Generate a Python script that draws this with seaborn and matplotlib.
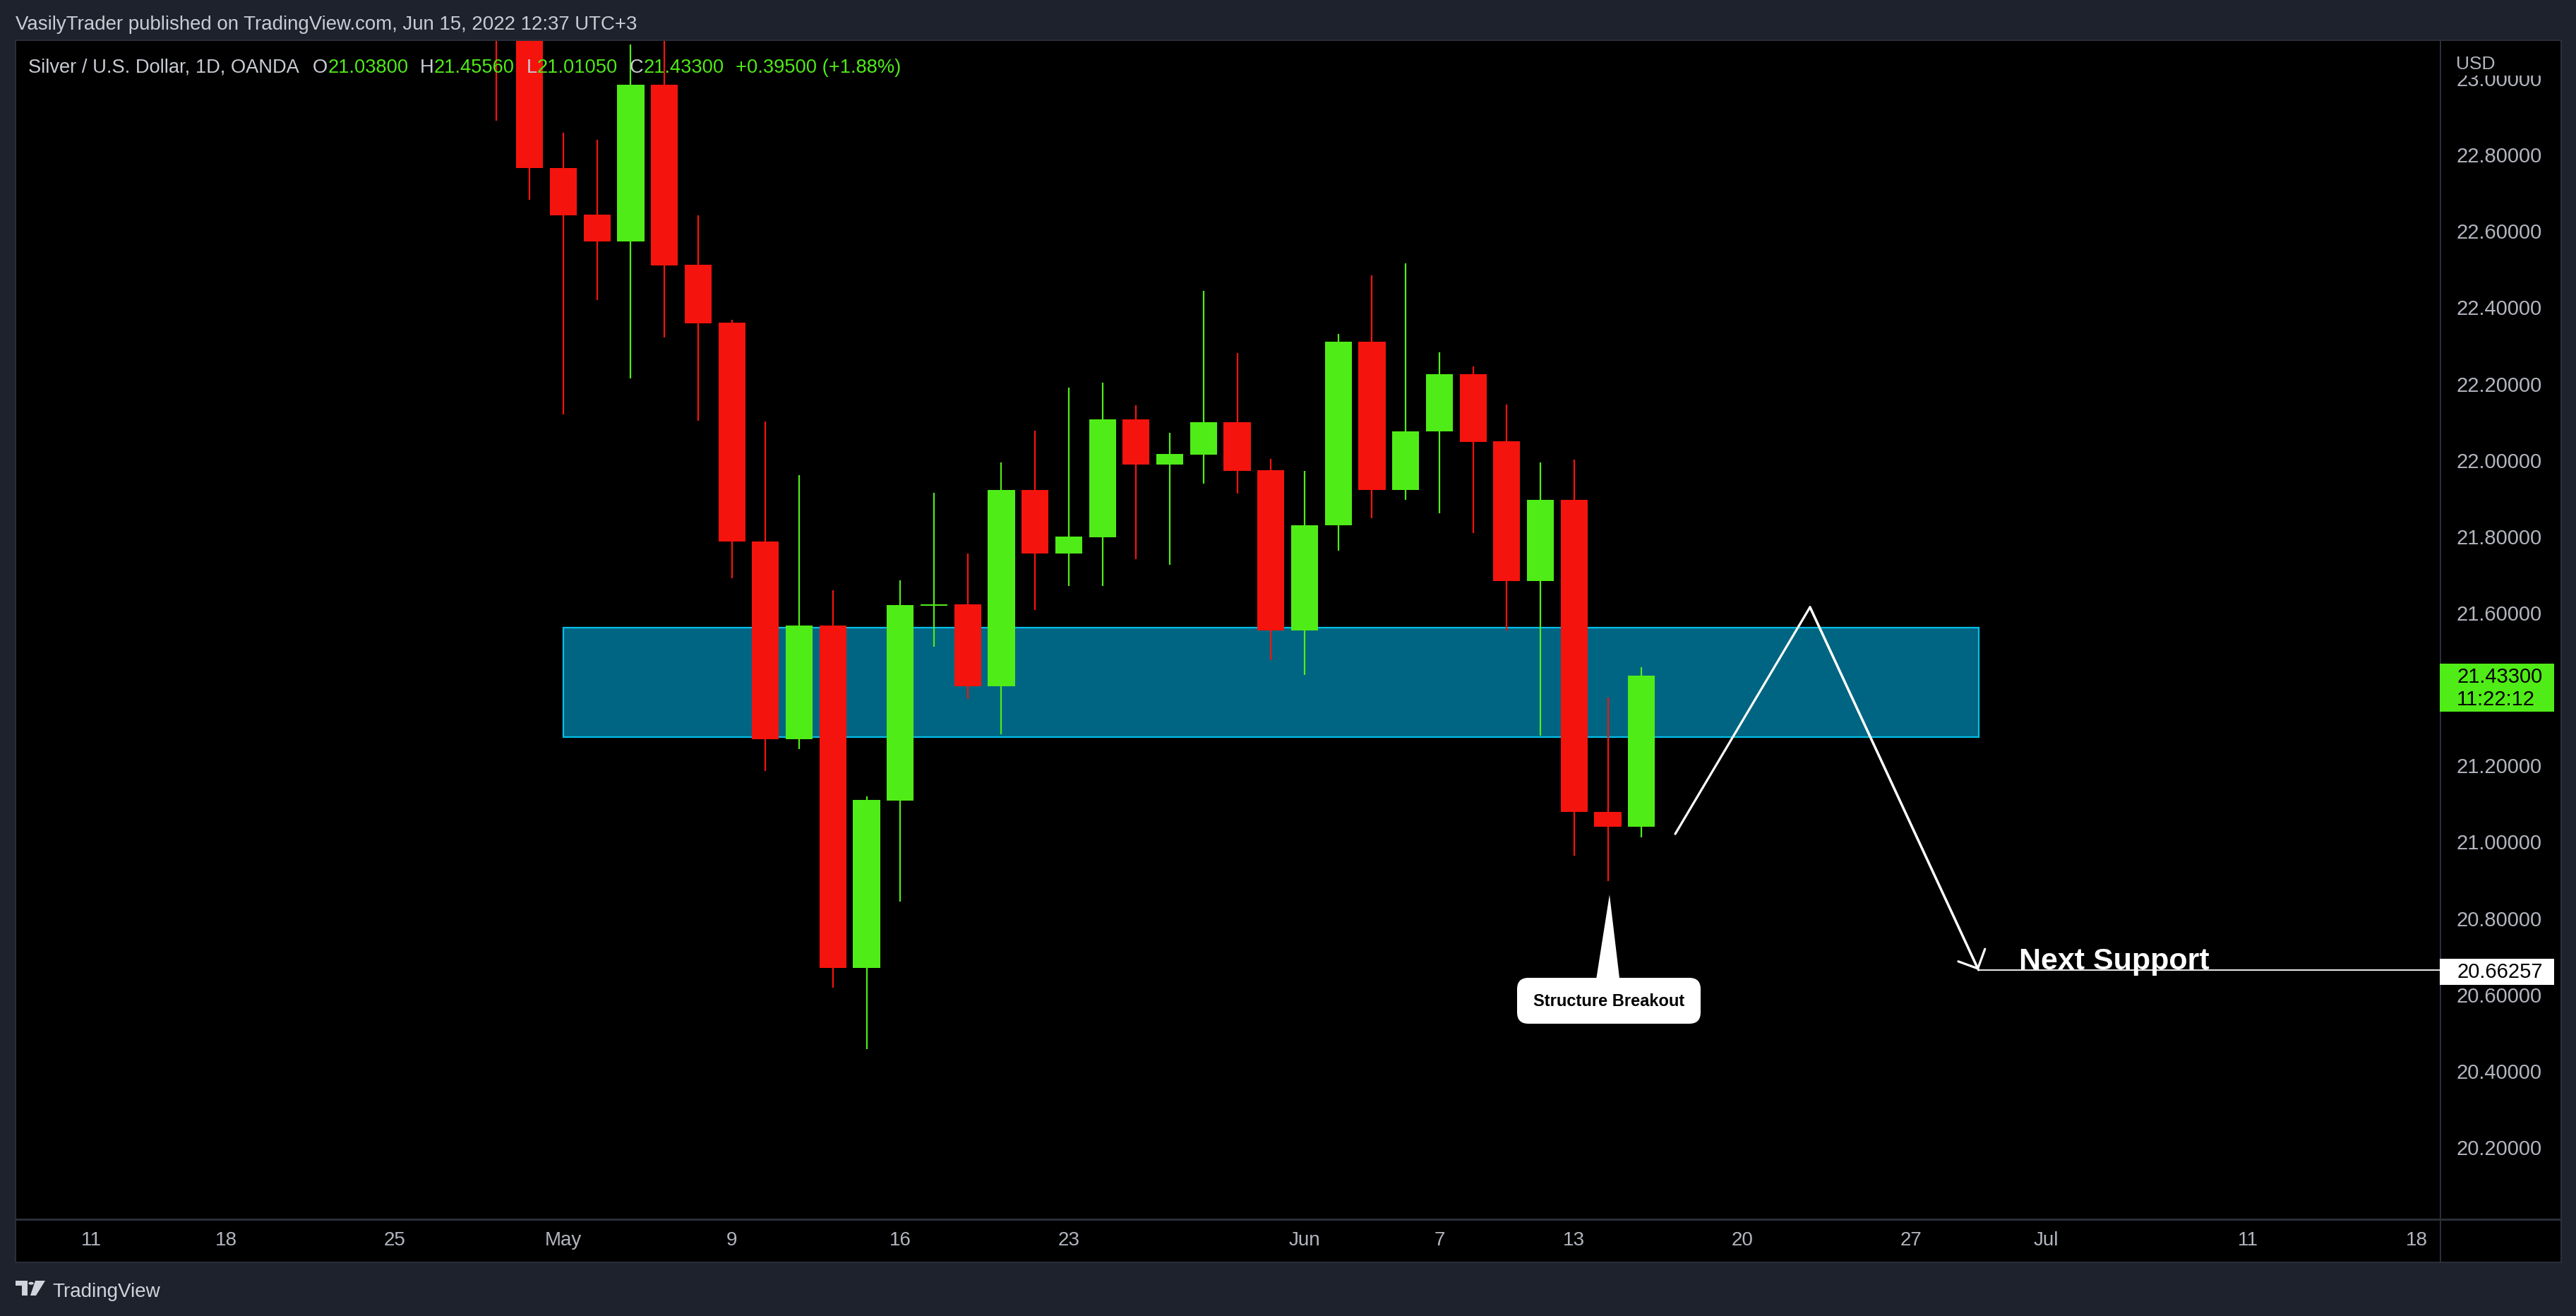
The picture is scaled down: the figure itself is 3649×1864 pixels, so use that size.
import matplotlib
matplotlib.use("Agg")
import matplotlib.pyplot as plt
import matplotlib.transforms as mtransforms
from matplotlib.patches import Rectangle, Polygon, FancyBboxPatch, Circle
import numpy as np
import pandas as pd
import seaborn as sns

# ---------------- data ----------------
bar_dates = ["2022-04-28", "2022-04-29", "2022-05-02", "2022-05-03", "2022-05-04", "2022-05-05", "2022-05-06",
             "2022-05-09", "2022-05-10", "2022-05-11", "2022-05-12", "2022-05-13",
             "2022-05-16", "2022-05-17", "2022-05-18", "2022-05-19", "2022-05-20",
             "2022-05-23", "2022-05-24", "2022-05-25", "2022-05-26", "2022-05-27",
             "2022-05-30", "2022-05-31", "2022-06-01", "2022-06-02", "2022-06-03",
             "2022-06-06", "2022-06-07", "2022-06-08", "2022-06-09", "2022-06-10",
             "2022-06-13", "2022-06-14", "2022-06-15"]
opens = [23.30, 23.14, 22.763, 22.641, 22.571, 22.981, 22.510,
         22.358, 21.785, 21.267, 21.565, 20.668,
         21.106, 21.616, 21.620, 21.406, 21.920,
         21.753, 21.796, 22.105, 21.986, 22.012,
         22.097, 21.972, 21.552, 21.827, 22.308,
         21.920, 22.073, 22.223, 22.047, 21.681,
         21.894, 21.077, 21.038]
highs = [23.45, 23.25, 22.855, 22.837, 23.087, 23.15, 22.639,
         22.365, 22.099, 21.959, 21.657, 21.118,
         21.683, 21.912, 21.753, 21.992, 22.075,
         22.188, 22.201, 22.142, 22.070, 22.441,
         22.279, 22.001, 21.970, 22.328, 22.482,
         22.513, 22.280, 22.243, 22.144, 21.992,
         22.000, 21.376, 21.4556]
lows = [22.887, 22.68, 22.118, 22.417, 22.212, 22.319, 22.101,
        21.689, 21.184, 21.241, 20.616, 20.455,
        20.842, 21.509, 21.372, 21.280, 21.605,
        21.668, 21.668, 21.739, 21.724, 21.936,
        21.911, 21.474, 21.435, 21.761, 21.846,
        21.894, 21.859, 21.807, 21.552, 21.276,
        20.962, 20.895, 21.0105]
closes = [23.14, 22.763, 22.639, 22.571, 22.981, 22.508, 22.356,
          21.785, 21.267, 21.565, 20.668, 21.108,
          21.618, 21.620, 21.406, 21.920, 21.753,
          21.798, 22.105, 21.986, 22.014, 22.097,
          21.970, 21.552, 21.827, 22.308, 21.920,
          22.073, 22.223, 22.046, 21.681, 21.894,
          21.077, 21.038, 21.433]

zone_start, zone_end = "2022-05-02", "2022-06-29"
zone_low, zone_high = 21.273, 21.560

proj_dates = ["2022-06-16", "2022-06-22", "2022-06-29"]
proj_prices = [21.019, 21.613, 20.66257]
support_price = 20.66257

callout_date = "2022-06-14"
callout_text = "Structure Breakout"
support_text = "Next Support"

# 21.4 is hidden behind the last-price label in the reference
price_ticks = [20.2, 20.4, 20.6, 20.8, 21.0, 21.2, 21.6, 21.8, 22.0, 22.2, 22.4, 22.6, 22.8, 23.0]
tick_dates = ["2022-04-11", "2022-04-18", "2022-04-25", "2022-05-02", "2022-05-09", "2022-05-16",
              "2022-05-23", "2022-06-01", "2022-06-07", "2022-06-13", "2022-06-20", "2022-06-27",
              "2022-07-01", "2022-07-11", "2022-07-18"]
tick_labels = ["11", "18", "25", "May", "9", "16", "23", "Jun", "7", "13", "20", "27", "Jul", "11", "18"]
holidays = ["2022-04-15"]

title_text = "VasilyTrader published on TradingView.com, Jun 15, 2022 12:37 UTC+3"
symbol_text = "Silver / U.S. Dollar, 1D, OANDA"
countdown_text = "11:22:12"

# ---------------- style ----------------
W, H, DPI = 3649, 1865, 100
BG = "#1e222d"
SEP = "#2a2e39"
GREEN = "#50ec17"
RED = "#f5130d"
ZONE = "#006582"
ZONE_EDGE = "#00bfe8"
AXTXT = "#b2b5be"
HDR = "#c9ccd4"

sns.set_theme(style="dark")
plt.rcParams["font.family"] = ["Liberation Sans", "DejaVu Sans"]

# trading calendar (weekdays without holidays)
days = pd.bdate_range("2022-04-11", "2022-07-29")
days = days[~days.isin(pd.to_datetime(holidays))]
pos = {d.strftime("%Y-%m-%d"): i for i, d in enumerate(days)}

fig = plt.figure(figsize=(W / DPI, H / DPI), dpi=DPI, facecolor=BG)


def frect(x0, y0, x1, y1, **kw):
    r = Rectangle((x0 / W, 1 - y1 / H), (x1 - x0) / W, (y1 - y0) / H,
                  transform=fig.transFigure, **kw)
    fig.add_artist(r)
    return r


# panel frames
frect(21, 57, 3629, 1790, fc=SEP, ec="none", zorder=-5)
frect(3458, 59, 3627, 1727, fc="black", ec="none", zorder=-4)
frect(23, 1730, 3456, 1788, fc="black", ec="none", zorder=-4)
frect(3458, 1730, 3627, 1788, fc="black", ec="none", zorder=-4)

PL, PR, PT, PB = 23, 3456, 59, 1727
ax = fig.add_axes([PL / W, 1 - PB / H, (PR - PL) / W, (PB - PT) / H])
ax.set_facecolor("black")
for s in ax.spines.values():
    s.set_visible(False)
ax.grid(False)

XMIN, XMAX = -2.237, 69.69
YMIN, YMAX = 20.0115, 23.096
ax.set_xlim(XMIN, XMAX)
ax.set_ylim(YMIN, YMAX)

# zone
ax.add_patch(Rectangle((pos[zone_start], zone_low), pos[zone_end] - pos[zone_start], zone_high - zone_low,
                       fc=ZONE, ec=ZONE_EDGE, lw=1.6, zorder=2))

# candles
xs = np.array([pos[d] for d in bar_dates])
o, h, l, c = (np.array(v) for v in (opens, highs, lows, closes))
cols = np.where(c >= o, GREEN, RED)
ax.vlines(xs, l, h, colors=cols, lw=1.6, zorder=3)
ax.bar(xs, np.maximum(np.abs(c - o), 0.004), bottom=np.minimum(o, c), width=0.8,
       color=cols, linewidth=0, zorder=4)

# projection path
px = [pos[d] for d in proj_dates]
sns.lineplot(x=px, y=proj_prices, ax=ax, color="white", lw=2.3, sort=False, zorder=6)
ax.annotate("", xy=(px[-1], proj_prices[-1]), xytext=(px[-2], proj_prices[-2]),
            arrowprops=dict(arrowstyle="->,head_length=0.75,head_width=0.75", color="white",
                            lw=2.3, shrinkA=0, shrinkB=0, mutation_scale=20), zorder=6)
ax.hlines(support_price, px[-1], XMAX, color="white", lw=1.3, zorder=6)
ax.text(px[-1] + 1.2, support_price + 0.004, support_text, color="white", fontsize=31,
        fontweight="bold", va="baseline", ha="left", zorder=7)

# callout
cx = pos[callout_date]
ax.add_patch(Polygon([(cx - 0.36, 20.63), (cx + 0.05, 20.86), (cx + 0.36, 20.63)],
                     closed=True, fc="white", ec="none", zorder=7))
bx, by = ax.transData.transform((cx + 0.03, 20.582))
bw, bh = 260, 65
fig.add_artist(FancyBboxPatch((bx - bw / 2, by - bh / 2), bw, bh,
                              boxstyle="round,pad=0,rounding_size=16",
                              transform=mtransforms.IdentityTransform(),
                              fc="white", ec="none", zorder=8))
fig.text(bx / W, by / H, callout_text, fontsize=17, fontweight="bold", color="black",
         ha="center", va="center", zorder=9)

# axes ticks
ax.yaxis.tick_right()
ax.set_yticks(price_ticks)
ax.set_yticklabels([f"{v:.5f}" for v in price_ticks])
ax.set_xticks([pos[d] for d in tick_dates])
ax.set_xticklabels(tick_labels)
ax.tick_params(axis="y", length=0, pad=17, labelsize=21, labelcolor=AXTXT)
ax.tick_params(axis="x", length=0, pad=12, labelsize=20, labelcolor=AXTXT)

# USD cover
frect(3458, 60, 3626, 108, fc="black", ec="none", zorder=5)
fig.text(3479 / W, 1 - 98 / H, "USD", fontsize=19, color=AXTXT, va="baseline", ha="left", zorder=6)


def ypix(price):
    return H - ax.transData.transform((0, price))[1]


# last price box
yc = ypix(closes[-1])
frect(3456, yc - 17, 3618, yc + 51, fc=GREEN, ec="none", zorder=5)
fig.text(3480 / W, 1 - (yc + 1) / H, f"{closes[-1]:.5f}", fontsize=21, color="black",
         va="center", ha="left", zorder=6)
fig.text(3480 / W, 1 - (yc + 33) / H, countdown_text, fontsize=21, color="black",
         va="center", ha="left", zorder=6)

# support price box
ys = ypix(support_price)
frect(3456, ys - 16, 3618, ys + 21, fc="white", ec="none", zorder=5)
fig.text(3480 / W, 1 - (ys + 2) / H, f"{support_price:.5f}", fontsize=21, color="black",
         va="center", ha="left", zorder=6)

# header
fig.text(22 / W, 1 - 42 / H, title_text, fontsize=19.9, color=HDR, va="baseline", ha="left")

chg = closes[-1] - closes[-2]
pct = chg / closes[-2] * 100
pieces = [(symbol_text, HDR, 0), ("O", HDR, 14), (f"{opens[-1]:.5f}", GREEN, 0),
          ("H", HDR, 12), (f"{highs[-1]:.5f}", GREEN, 0),
          ("L", HDR, 12), (f"{lows[-1]:.5f}", GREEN, 0),
          ("C", HDR, 12), (f"{closes[-1]:.5f}", GREEN, 0),
          (f"{chg:+.5f} ({pct:+.2f}%)", GREEN, 12)]
prev = None
for txt, col, gap in pieces:
    if prev is None:
        prev = fig.text(40 / W, 1 - 103 / H, txt, fontsize=19.6, color=col, va="baseline", ha="left")
    else:
        prev = fig.add_artist(matplotlib.text.Annotation(
            txt, xy=(1, 0), xycoords=prev, xytext=(gap, 0), textcoords="offset points",
            fontsize=19.6, color=col, va="bottom", ha="left"))

# TradingView logo
LOGO = "#d1d4dc"
frect(22, 1815, 39, 1822, fc=LOGO, ec="none")
frect(31, 1815, 39, 1836, fc=LOGO, ec="none")
fig.add_artist(Circle((44 / W, 1 - 1818.7 / H), 3.8 / W, transform=fig.transFigure, fc=LOGO, ec="none"))
fig.add_artist(Polygon([(50 / W, 1 - 1815 / H), (64 / W, 1 - 1815 / H), (51 / W, 1 - 1836 / H), (43 / W, 1 - 1836 / H)],
                       closed=True, transform=fig.transFigure, fc=LOGO, ec="none"))
fig.text(74 / W, 1 - 1837 / H, "TradingView", fontsize=20, color=LOGO, va="baseline", ha="left")

fig.savefig("out.png", dpi=DPI, facecolor=BG)
